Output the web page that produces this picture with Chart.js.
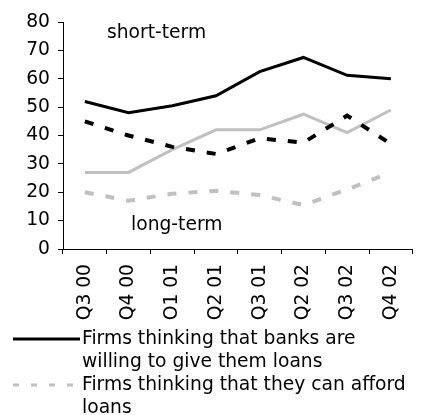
<!DOCTYPE html>
<html>
<head>
<meta charset="utf-8">
<script src="https://cdn.jsdelivr.net/npm/chart.js@4.4.1/dist/chart.umd.min.js"></script>
<style>
  html, body { margin: 0; padding: 0; background: #fff; }
  #wrap { width: 424px; height: 415px; position: relative; }
</style>
</head>
<body>
<div id="wrap"><canvas id="loansChart" width="424" height="415"></canvas></div>
<script>
// quarters on the x axis
const quarters = ['Q3 00', 'Q4 00', 'O1 01', 'Q2 01', 'Q3 01', 'Q2 02', 'Q3 02', 'Q4 02'];

// short-term: banks willing / firms can afford
const shortWilling = [52, 48, 50.5, 54, 62.5, 67.5, 61.2, 60];
const shortAfford = [45, 40, 36, 33.5, 39, 37.5, 47, 37];

// long-term: banks willing / firms can afford
const longWilling = [27, 27, 35, 42, 42, 47.5, 41, 49];
const longAfford = [20, 17, 19.5, 20.5, 19, 15.5, 21, 27];

const yTicks = [0, 10, 20, 30, 40, 50, 60, 70, 80];

const legendItems = [
    ['Firms thinking that banks are', 'willing to give them loans'],
    ['Firms thinking that they can afford', 'loans']
];

const FONT = 'DejaVu Sans, Verdana, sans-serif';
const SIZE = 18.7;
const GREY = '#c0c0c0';

// notes inside the plot plus the two-entry legend under the axis
const extras = {
    id: 'extras',
    afterDraw(chart) {
        const ctx = chart.ctx;
        const y = chart.scales.y;
        ctx.save();
        ctx.fillStyle = '#000';
        ctx.font = SIZE + 'px ' + FONT;
        ctx.textBaseline = 'middle';
        ctx.textAlign = 'left';
        ctx.fillText('short-term', 107, y.getPixelForValue(76));
        ctx.fillText('long-term', 131, y.getPixelForValue(8.5));

        // legend
        const rows = [339, 385];
        rows.forEach((ry, i) => {
            ctx.beginPath();
            ctx.lineWidth = 3;
            ctx.strokeStyle = i === 0 ? '#000' : GREY;
            ctx.setLineDash(i === 0 ? [] : [6, 12]);
            ctx.moveTo(13, ry);
            ctx.lineTo(80, ry);
            ctx.stroke();
            ctx.setLineDash([]);
            legendItems[i].forEach((t, j) => {
                ctx.fillText(t, 82, ry + j * 23);
            });
        });
        ctx.restore();
    }
};

new Chart(document.getElementById('loansChart'), {
    type: 'line',
    data: {
        labels: quarters,
        datasets: [
            {
                label: 'short-term willing',
                data: shortWilling,
                borderColor: '#000',
                borderWidth: 3,
                pointRadius: 0,
                tension: 0
            },
            {
                label: 'short-term afford',
                data: shortAfford,
                borderColor: '#000',
                borderWidth: 4,
                borderDash: [9, 12],
                pointRadius: 0,
                tension: 0
            },
            {
                label: 'long-term willing',
                data: longWilling,
                borderColor: GREY,
                borderWidth: 3,
                pointRadius: 0,
                tension: 0
            },
            {
                label: 'long-term afford',
                data: longAfford,
                borderColor: GREY,
                borderWidth: 4,
                borderDash: [9, 12],
                pointRadius: 0,
                tension: 0
            }
        ]
    },
    options: {
        responsive: false,
        animation: false,
        layout: { padding: { top: 22, right: 11, left: 0, bottom: 0 } },
        plugins: {
            legend: { display: false },
            tooltip: { enabled: false }
        },
        scales: {
            x: {
                offset: true,
                afterFit: (s) => { s.height = 166; },
                border: { color: '#000', width: 1 },
                grid: {
                    offset: true,
                    drawOnChartArea: false,
                    drawTicks: true,
                    tickLength: 5,
                    color: '#000'
                },
                ticks: {
                    maxRotation: 90,
                    minRotation: 90,
                    padding: 10,
                    color: '#000',
                    font: { family: FONT, size: SIZE }
                }
            },
            y: {
                min: 0,
                max: 80,
                afterFit: (s) => { s.width = 63; },
                afterBuildTicks: (s) => { s.ticks = yTicks.map((v) => ({ value: v })); },
                border: { color: '#000', width: 1 },
                grid: {
                    drawOnChartArea: false,
                    drawTicks: true,
                    tickLength: 5,
                    color: '#000'
                },
                ticks: {
                    padding: 8,
                    color: '#000',
                    font: { family: FONT, size: SIZE }
                }
            }
        }
    },
    plugins: [extras]
});
</script>
</body>
</html>
